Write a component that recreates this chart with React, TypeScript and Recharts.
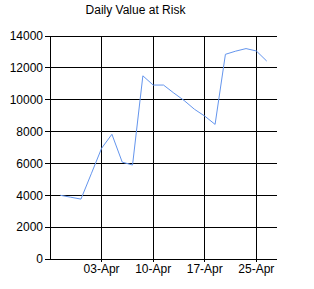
import React from 'react';
import { LineChart, Line, XAxis, YAxis, CartesianGrid } from 'recharts';

const dates = [
  '28-Mar', '29-Mar', '30-Mar', '31-Mar', '03-Apr', '04-Apr', '05-Apr', '06-Apr', '07-Apr',
  '10-Apr', '11-Apr', '12-Apr', '13-Apr', '14-Apr', '17-Apr', '18-Apr', '19-Apr', '20-Apr',
  '21-Apr', '25-Apr', '26-Apr',
];
const values = [
  4000, 3880, 3760, 5350, 6950, 7830, 6080, 5900, 11500, 10920, 10920, 10420, 9950, 9400,
  8970, 8450, 12850, 13050, 13210, 13060, 12430,
];
const xTicks = [4, 9, 14, 19];
const yTicks = [0, 2000, 4000, 6000, 8000, 10000, 12000, 14000];
const title = 'Daily Value at Risk';

const data = values.map((v, i) => ({ idx: i, date: dates[i], value: v }));

const font = 'Liberation Sans, Arial, sans-serif';

export default function App() {
  return (
    <div style={{ position: 'absolute', left: 0, top: 0, width: 314, height: 289, background: '#fff', shapeRendering: 'crispEdges' }}>
      <style>{`.recharts-line-curve { shape-rendering: auto; }`}</style>
      <div
        style={{
          position: 'absolute',
          left: 0,
          top: 3,
          width: 271,
          textAlign: 'center',
          fontFamily: font,
          fontSize: 12,
          color: '#000',
        }}
      >
        {title}
      </div>
      <LineChart width={314} height={289} data={data} margin={{ top: 36, right: 37, bottom: 0, left: 0 }}>
        <CartesianGrid stroke="#000" strokeWidth={1} horizontalValues={yTicks} verticalValues={xTicks} />
        <XAxis
          dataKey="idx"
          type="number"
          domain={[-1, 21]}
          ticks={xTicks}
          tickFormatter={(v: number) => dates[v]}
          height={30}
          tickSize={3}
          tickMargin={2}
          axisLine={{ stroke: '#000' }}
          tickLine={{ stroke: '#000' }}
          tick={{ fill: '#000', fontSize: 12, fontFamily: font }}
          interval={0}
        />
        <YAxis
          type="number"
          domain={[0, 14000]}
          ticks={yTicks}
          width={50}
          tickSize={5}
          tickMargin={2}
          axisLine={{ stroke: '#000' }}
          tickLine={{ stroke: '#000' }}
          tick={{ fill: '#000', fontSize: 12, fontFamily: font }}
          interval={0}
        />
        <Line
          dataKey="value"
          type="linear"
          stroke="#6495ED"
          strokeWidth={1}
          dot={false}
          isAnimationActive={false}
        />
      </LineChart>
    </div>
  );
}
